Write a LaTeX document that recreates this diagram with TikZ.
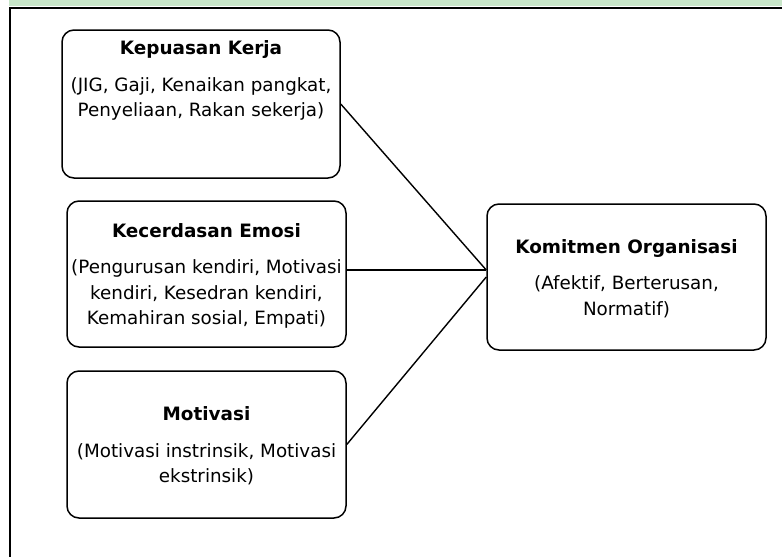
\documentclass[tikz,border=0pt]{standalone}
\usepackage{fontspec}
\setmainfont{DejaVu Sans}
\usetikzlibrary{positioning}

\definecolor{bandgreen}{RGB}{200,230,201}

\newcommand{\judul}[1]{{\fontsize{18.4}{25.5}\selectfont\bfseries #1}}

\tikzset{
	kotak/.style={draw=black, line width=1.5pt, rounded corners=12pt, minimum width=279pt, minimum height=147pt, inner sep=0pt},
	isi/.style={align=center, inner sep=0pt, font=\fontsize{18.3}{25.5}\selectfont},
	garis/.style={draw=black, line width=1.4pt}
}

\begin{document}
\begin{tikzpicture}[x=1pt, y=-1pt]
			\useasboundingbox (0,0) rectangle (782,557);
			
			% FRAME
			\fill[bandgreen] (9,0) rectangle (782,6.3);
			\draw[line width=1.8pt] (9,7.6)--(782,7.6);
			\draw[line width=1.6pt] (9.8,7)--(9.8,557);
			
			% BOXES
			\node[kotak, minimum width=278pt, minimum height=148pt] (kepuasan) at (201,104) {};
			\node[kotak, minimum height=146pt] (kecerdasan) at (206.5,274) {};
			\node[kotak] (motivasi) at (206.5,444.5) {};
			\node[kotak, minimum height=146pt] (komitmen) at (626.5,277) {};
			
			% TEXTS
			\node[isi] (t-kepuasan) at (201,80.5) {\judul{Kepuasan Kerja}\\[11pt](JIG, Gaji, Kenaikan pangkat,\\Penyeliaan, Rakan sekerja)};
			\node[isi] (t-kecerdasan) at (206.5,276) {\judul{Kecerdasan Emosi}\\[11pt](Pengurusan kendiri, Motivasi\\kendiri, Kesedran kendiri,\\Kemahiran sosial, Empati)};
			\node[isi] (t-motivasi) at (206.5,446) {\judul{Motivasi}\\[11pt](Motivasi instrinsik, Motivasi\\ekstrinsik)};
			\node[isi] (t-komitmen) at (626.5,278.5) {\judul{Komitmen Organisasi}\\[11pt](Afektif, Berterusan,\\Normatif)};
			
			% CONNECTORS
			\path[garis] (kepuasan.east)--([yshift=7pt]komitmen.west);
			\path[garis] ([yshift=4pt]kecerdasan.east)--([yshift=7pt]komitmen.west);
			\path[garis] (motivasi.east)--(komitmen.west);
		\end{tikzpicture}
\end{document}
